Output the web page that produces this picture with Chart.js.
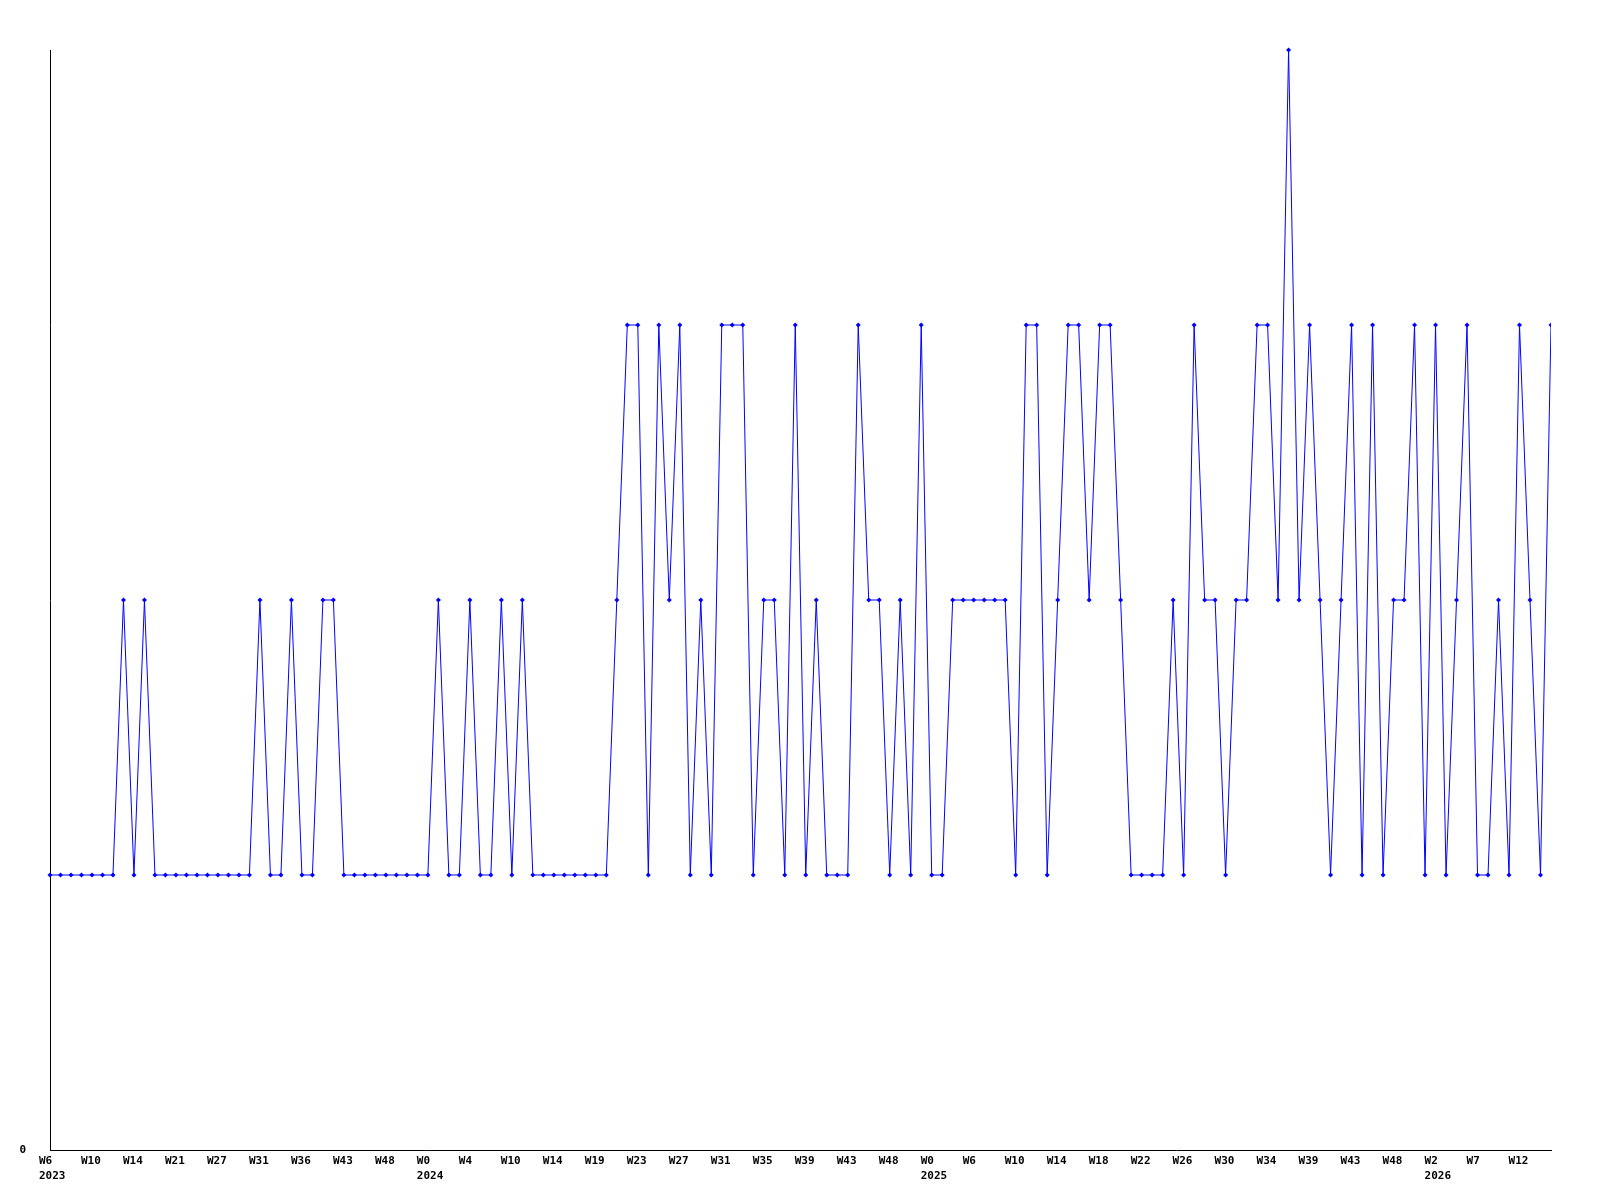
<!DOCTYPE html>
<html>
<head>
<meta charset="utf-8">
<script src="https://cdn.jsdelivr.net/npm/chart.js@4"></script>
<style>
html,body{margin:0;padding:0;background:#fff;}
#wrap{width:1600px;height:1200px;position:relative;}
</style>
</head>
<body>
<div id="wrap"><canvas id="c"></canvas></div>
<script>
// Weekly values, one per data row (144 rows)
const values = [
  1,1,1,1,1,1,1, 2,1,2,
  1,1,1,1,1,1,1,1,1,1,
  2,1,1,2,1,1,2,2,
  1,1,1,1,1,1,1,1,1,
  2,1,1,2,1,1,2,1,2,
  1,1,1,1,1,1,1,1,
  2,3,3,1,3,2,3,1,2,1,3,3,3,1,2,2,1,3,1,2,1,1,1,3,2,2,1,2,1,3,1,1,
  2,2,2,2,2,2,1,3,3,1,2,3,3,2,3,3,2,
  1,1,1,1,
  2,1,3,2,2,1,2,2,3,3,2,4,2,3,2,1,2,3,1,3,1,2,2,3,1,3,1,2,3,1,1,2,1,3,2,1,3
];

// Tick labels shown on every 4th row
const tickWeeks = [
  "W6","W10","W14","W21","W27","W31","W36","W43","W48",
  "W0","W4","W10","W14","W19","W23","W27","W31","W35","W39","W43","W48",
  "W0","W6","W10","W14","W18","W22","W26","W30","W34","W39","W43","W48",
  "W2","W7","W12"
];
const tickYears = ["2023","","","","","","","","",
  "2024","","","","","","","","","","","",
  "2025","","","","","","","","","","","",
  "2026","",""];
const tickEvery = 4;

// Category per row: labelled rows carry their week, others are unlabelled
const categories = values.map((v, i) => (i % tickEvery === 0 && tickWeeks[i / tickEvery] !== undefined) ? tickWeeks[i / tickEvery] : "");

const yTicks = [0];

const font = {family: "'DejaVu Sans Mono', monospace", size: 11, weight: 'bold'};

new Chart(document.getElementById('c'), {
  type: 'line',
  data: {
    labels: categories,
    datasets: [{
      data: values,
      borderColor: '#0000ff',
      backgroundColor: '#0000ff',
      borderWidth: 1,
      tension: 0,
      fill: false,
      pointStyle: 'rectRot',
      pointRadius: 2.5,
      pointBorderWidth: 0,
      pointBackgroundColor: '#0000ff',
      clip: {left: 5, top: 5, right: 0, bottom: 5}
    }]
  },
  options: {
    responsive: true,
    maintainAspectRatio: false,
    animation: false,
    events: [],
    layout: {padding: {top: 50, right: 49, bottom: 0, left: 0}},
    plugins: {legend: {display: false}, tooltip: {enabled: false}},
    scales: {
      x: {
        type: 'category',
        offset: false,
        grid: {display: false, drawTicks: false},
        border: {display: true, color: '#000', width: 1},
        afterFit: s => { s.height = 50; },
        ticks: {
          autoSkip: false,
          maxRotation: 0,
          minRotation: 0,
          align: 'start',
          labelOffset: -11,
          padding: 4,
          color: '#000',
          font: Object.assign({}, font, {lineHeight: 1.32}),
          callback: function(value, index) {
            if (index % tickEvery !== 0) return null;
            const k = index / tickEvery;
            if (tickWeeks[k] === undefined) return null;
            return tickYears[k] ? [tickWeeks[k], tickYears[k]] : tickWeeks[k];
          }
        }
      },
      y: {
        min: 0,
        max: 4,
        grid: {display: false, drawTicks: false},
        border: {display: true, color: '#000', width: 1},
        afterFit: s => { s.width = 50; },
        ticks: {
          stepSize: 1,
          padding: 24,
          color: '#000',
          font: font,
          callback: v => yTicks.includes(v) ? String(v) : null
        }
      }
    }
  }
});
</script>
</body>
</html>
